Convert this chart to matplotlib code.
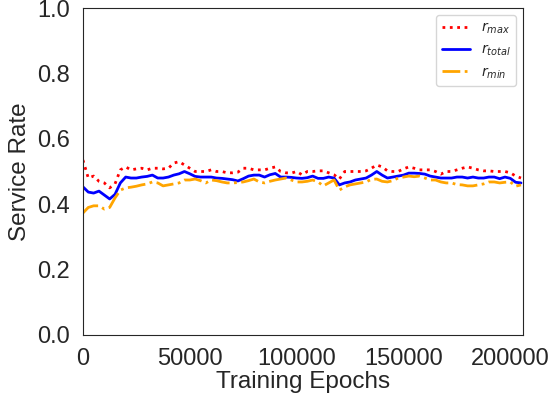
import numpy as np
import matplotlib
matplotlib.use("Agg")
import matplotlib.pyplot as plt
import seaborn as sns

# ---------------- data (every 2500 epochs) ----------------
epochs = np.arange(0, 205001, 2500)

r_max = [0.535, 0.48, 0.486, 0.47, 0.465, 0.45, 0.462, 0.505, 0.514, 0.505,
         0.508, 0.51, 0.505, 0.51, 0.51, 0.508, 0.51, 0.526, 0.53, 0.52,
         0.51, 0.50, 0.50, 0.50, 0.505, 0.50, 0.50, 0.496, 0.496, 0.498,
         0.51, 0.51, 0.505, 0.505, 0.505, 0.51, 0.514, 0.50, 0.496, 0.495,
         0.50, 0.49, 0.50, 0.50, 0.502, 0.502, 0.496, 0.49, 0.477, 0.50,
         0.50, 0.50, 0.50, 0.502, 0.51, 0.52, 0.514, 0.502, 0.50, 0.50,
         0.508, 0.514, 0.51, 0.505, 0.505, 0.505, 0.50, 0.492, 0.50, 0.50,
         0.505, 0.51, 0.514, 0.51, 0.505, 0.502, 0.502, 0.50, 0.50, 0.50,
         0.496, 0.486, 0.48]

r_total = [0.453, 0.437, 0.434, 0.44, 0.428, 0.416, 0.43, 0.465, 0.483, 0.48,
           0.48, 0.483, 0.485, 0.489, 0.48, 0.48, 0.483, 0.489, 0.493, 0.50,
           0.493, 0.485, 0.483, 0.483, 0.483, 0.48, 0.479, 0.477, 0.475, 0.471,
           0.478, 0.486, 0.489, 0.489, 0.483, 0.49, 0.494, 0.483, 0.483, 0.482,
           0.48, 0.479, 0.481, 0.486, 0.479, 0.479, 0.483, 0.48, 0.459, 0.465,
           0.468, 0.474, 0.477, 0.48, 0.489, 0.50, 0.489, 0.48, 0.483, 0.486,
           0.489, 0.495, 0.495, 0.494, 0.492, 0.486, 0.483, 0.48, 0.48, 0.48,
           0.483, 0.483, 0.48, 0.483, 0.48, 0.48, 0.483, 0.483, 0.478, 0.483,
           0.479, 0.467, 0.465]

r_min = [0.373, 0.39, 0.395, 0.395, 0.385, 0.39, 0.419, 0.443, 0.45, 0.452,
         0.455, 0.459, 0.462, 0.468, 0.465, 0.456, 0.459, 0.462, 0.465, 0.474,
         0.474, 0.477, 0.472, 0.465, 0.474, 0.472, 0.468, 0.465, 0.465, 0.466,
         0.468, 0.472, 0.477, 0.468, 0.465, 0.47, 0.474, 0.477, 0.48, 0.474,
         0.468, 0.468, 0.47, 0.474, 0.468, 0.456, 0.465, 0.474, 0.443, 0.453,
         0.459, 0.462, 0.465, 0.468, 0.476, 0.477, 0.47, 0.468, 0.472, 0.48,
         0.483, 0.486, 0.484, 0.486, 0.48, 0.474, 0.474, 0.468, 0.465, 0.465,
         0.46, 0.459, 0.456, 0.456, 0.459, 0.462, 0.468, 0.468, 0.465, 0.467,
         0.468, 0.455, 0.459]

# ---------------- plot ----------------
sns.set_style("white")
plt.rcParams['font.family'] = ['Liberation Sans', 'DejaVu Sans']

fig = plt.figure(figsize=(5.53, 4.04), dpi=100)
ax = fig.add_axes([0.150, 0.171, 0.796, 0.809])

ax.plot(epochs, r_max, ':', color='red', lw=2, label=r'$r_{max}$')
ax.plot(epochs, r_total, '-', color='blue', lw=2, label=r'$r_{total}$')
ax.plot(epochs, r_min, '-.', color='orange', lw=2, label=r'$r_{min}$')

ax.set_xlim(0, 206000)
ax.set_ylim(0, 1.0)
ax.set_xticks([0, 50000, 100000, 150000, 200000])
ax.set_yticks([0.0, 0.2, 0.4, 0.6, 0.8, 1.0])
ax.tick_params(labelsize=17, pad=6)
ax.set_xlabel('Training Epochs', fontsize=17.5, labelpad=1)
ax.set_ylabel('Service Rate', fontsize=17.5, labelpad=4)
ax.legend(loc='upper right', fontsize=10, frameon=True)

fig.savefig('out.png', dpi=100)
